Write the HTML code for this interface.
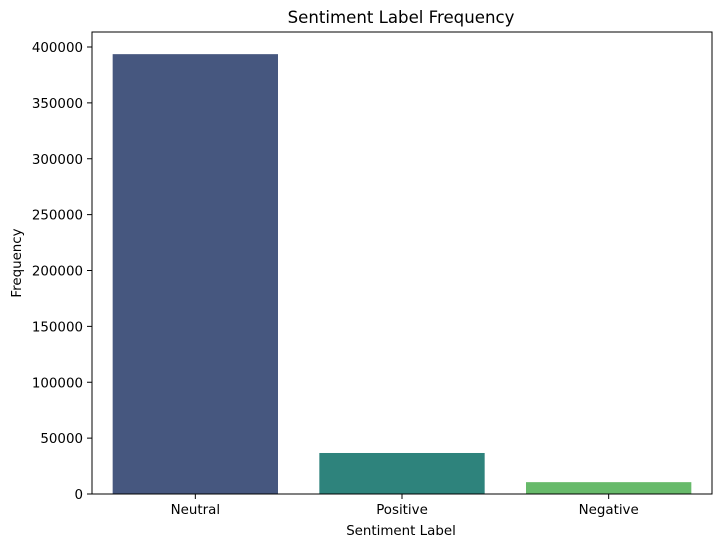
<!DOCTYPE html>
<html><head><meta charset="utf-8"><style>
body{margin:0;background:#fff;font-family:"Liberation Sans","DejaVu Sans",sans-serif}
svg text{font-family:"DejaVu Sans","Liberation Sans",sans-serif;fill:#000}
</style></head><body>
<svg id="c" width="721" height="547">
<text x="401" y="23" font-size="16.6" text-anchor="middle">Sentiment Label Frequency</text>
<g id="bars"></g><g id="yt"></g><g id="xt"></g>
<rect x="92" y="32" width="620" height="462" fill="none" stroke="#000" stroke-width="1"/>
<text x="401" y="535" font-size="13.4" text-anchor="middle">Sentiment Label</text>
<text x="21" y="263" font-size="13.4" text-anchor="middle" transform="rotate(-90 21 263)">Frequency</text>
</svg>
<script>
const categories=["Neutral","Positive","Negative"];
const values=[393600,36700,10600];
const colors=["#46577f","#2e837c","#67ba6a"];
const yTicks=[0,50000,100000,150000,200000,250000,300000,350000,400000];
const L=92,R=712,B=494,T=32;
const y=v=>B-v*(447/400000);
const band=(R-L)/categories.length;
const x=i=>L+band*i+band/2;
const ns="http://www.w3.org/2000/svg";
const bars=document.getElementById('bars'),yt=document.getElementById('yt'),xt=document.getElementById('xt');
categories.forEach((c,i)=>{
 const r=document.createElementNS(ns,'rect');
 const w=band*0.8;
 r.setAttribute('x',x(i)-w/2);r.setAttribute('width',w);
 r.setAttribute('y',y(values[i]));r.setAttribute('height',B-y(values[i]));
 r.setAttribute('fill',colors[i]);
 
 
 bars.appendChild(r);
 const t=document.createElementNS(ns,'line');
 t.setAttribute('x1',x(i));t.setAttribute('x2',x(i));t.setAttribute('y1',B);t.setAttribute('y2',B+5);t.setAttribute('stroke','#000');
 xt.appendChild(t);
 const l=document.createElementNS(ns,'text');
 l.setAttribute('x',x(i));l.setAttribute('y',B+20);l.setAttribute('font-size','13.4');l.setAttribute('text-anchor','middle');
 l.textContent=c;
 
 
 xt.appendChild(l);
});
yTicks.forEach(v=>{
 const t=document.createElementNS(ns,'line');
 t.setAttribute('x1',L-5);t.setAttribute('x2',L);t.setAttribute('y1',y(v));t.setAttribute('y2',y(v));t.setAttribute('stroke','#000');
 yt.appendChild(t);
 const l=document.createElementNS(ns,'text');
 l.setAttribute('x',L-9);l.setAttribute('y',y(v)+5);l.setAttribute('font-size','13.4');l.setAttribute('text-anchor','end');
 l.textContent=v;
 
 
 yt.appendChild(l);
});
</script>
</body></html>
